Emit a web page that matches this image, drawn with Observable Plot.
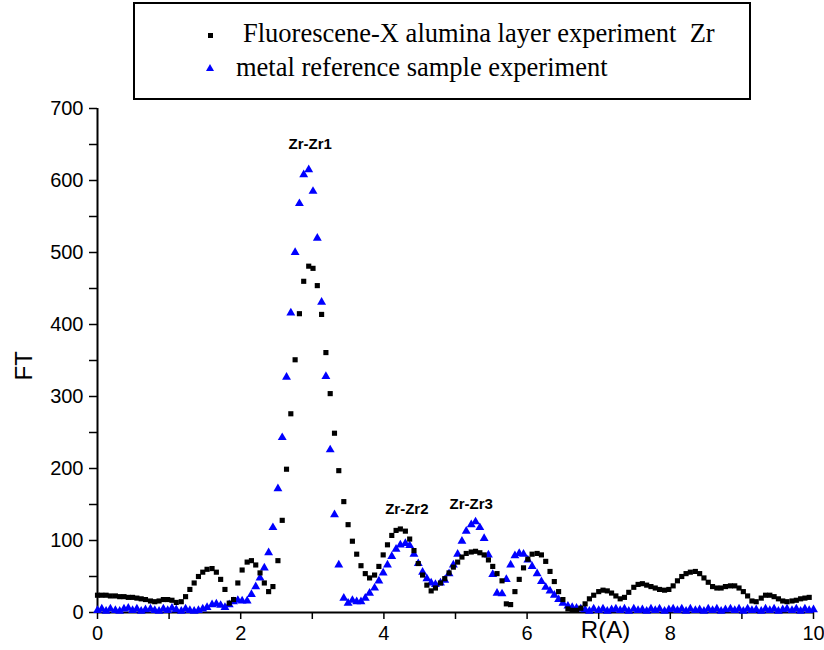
<!DOCTYPE html>
<html>
<head>
<meta charset="utf-8">
<script src="https://cdn.jsdelivr.net/npm/d3@7"></script>
<script src="https://cdn.jsdelivr.net/npm/@observablehq/plot@0.6"></script>
<style>
  html, body { margin: 0; padding: 0; background: #fff; }
  #wrap { position: relative; width: 824px; height: 650px; overflow: hidden; }
  #legend { position: absolute; left: 133px; top: 2px; width: 614px; height: 94px;
    border: 2px solid #000; box-sizing: content-box; background: #fff;
    font-family: "Liberation Serif", "Times New Roman", serif; font-size: 26.5px; color: #000; }
  .row { position: absolute; white-space: pre; line-height: 1; }
  .sq { position: absolute; width: 5px; height: 5px; background: #000; }
  .tri { position: absolute; width: 0; height: 0; border-left: 4px solid transparent;
    border-right: 4px solid transparent; border-bottom: 7px solid #0000ff; }
</style>
</head>
<body>
<div id="wrap">
  <div id="chart"></div>
  <div id="legend"></div>
</div>
<script>
// R grid (Å)
const r = [0.00,0.06,0.12,0.18,0.25,0.31,0.37,0.43,0.49,0.55,0.61,0.67,0.74,0.80,0.86,0.92,0.98,1.04,1.10,1.17,
1.23,1.29,1.35,1.41,1.47,1.53,1.60,1.66,1.72,1.78,1.84,1.90,1.96,2.02,2.09,2.15,2.21,2.27,2.33,2.39,
2.45,2.52,2.58,2.64,2.70,2.76,2.82,2.88,2.95,3.01,3.07,3.13,3.19,3.25,3.31,3.37,3.44,3.50,3.56,3.62,
3.68,3.74,3.80,3.87,3.93,3.99,4.05,4.11,4.17,4.23,4.30,4.36,4.42,4.48,4.54,4.60,4.66,4.72,4.79,4.85,
4.91,4.97,5.03,5.09,5.15,5.22,5.28,5.34,5.40,5.46,5.52,5.58,5.65,5.71,5.77,5.83,5.89,5.95,6.01,6.07,
6.14,6.20,6.26,6.32,6.38,6.44,6.50,6.57,6.63,6.69,6.75,6.81,6.87,6.93,7.00,7.06,7.12,7.18,7.24,7.30,
7.36,7.42,7.49,7.55,7.61,7.67,7.73,7.79,7.85,7.92,7.98,8.04,8.10,8.16,8.22,8.28,8.35,8.41,8.47,8.53,
8.59,8.65,8.71,8.77,8.84,8.90,8.96,9.02,9.08,9.14,9.20,9.27,9.33,9.39,9.45,9.51,9.57,9.63,9.70,9.76,
9.82,9.88,9.94,10.00];

// Fluorescene-X alumina layer experiment Zr (black squares)
const ftAlumina = [24,24,24,23,23,22,22,21,21,20,19,18,16,15,16,18,18,17,14,15,
22,32,41,50,56,60,61,56,46,32,13,18,41,59,70,72,66,55,41,29,
36,72,128,199,276,351,415,460,481,478,454,414,361,304,249,197,154,122,99,81,
65,54,48,52,64,80,94,107,114,116,113,102,86,68,52,38,30,34,41,47,
55,63,70,77,82,84,85,83,80,73,64,54,44,12,11,29,46,62,74,81,
82,80,71,57,43,29,18,5,3,3,6,12,19,24,29,31,30,27,23,19,
21,28,35,39,40,38,36,34,32,31,32,37,44,50,54,56,57,54,48,42,
36,34,34,36,37,37,34,29,23,16,15,20,24,24,22,19,16,15,16,17,
19,20,21];

// metal reference sample experiment (blue triangles)
const ftMetal = [3,5,2,5,3,2,5,6,3,5,2,4,5,3,2,5,3,6,4,2,
5,3,2,3,5,7,11,12,10,7,11,15,17,16,16,25,36,48,62,83,
118,172,243,327,416,500,568,608,615,585,520,431,328,226,136,66,20,13,17,15,
15,20,27,34,44,55,66,78,88,94,96,93,81,68,56,47,41,39,41,45,
54,66,81,99,113,122,126,118,103,80,53,27,26,46,66,79,82,81,73,64,
54,43,35,30,24,18,13,9,7,6,5,4,2,5,3,5,2,4,5,3,
5,2,5,3,4,2,5,3,5,2,4,5,3,5,2,5,3,4,2,5,
3,5,2,4,5,3,5,2,5,3,4,2,5,3,5,2,4,5,3,5,
2,5,3,4];

const seriesNames = ["Fluorescene-X alumina layer experiment  Zr", "metal reference sample experiment"];
const peakLabels = ["Zr-Zr1", "Zr-Zr2", "Zr-Zr3"];
const peakX = [2.97, 4.32, 5.22];
const peakY = [651, 144, 150];
const xTicks = [0, 2, 4, 6, 8, 10];
const xMinorTicks = [1, 3, 5, 7, 9];
const yTicks = [0, 100, 200, 300, 400, 500, 600, 700];
const yMinorTicks = [50, 150, 250, 350, 450, 550, 650];

const alumina = ftAlumina.map((v, i) => ({R: r[i], FT: v}));
const metal = ftMetal.map((v, i) => ({R: r[i], FT: v}));
const peaks = peakLabels.map((t, i) => ({t, x: peakX[i], y: peakY[i]}));

const chart = Plot.plot({
  width: 824,
  height: 650,
  marginLeft: 97,
  marginRight: 11,
  marginTop: 108,
  marginBottom: 38,
  style: {fontFamily: "'Liberation Sans', Arial, sans-serif", background: "#fff", color: "#000", overflow: "visible"},
  x: {domain: [0, 10]},
  y: {domain: [0, 700]},
  marks: [
    Plot.axisX(xTicks, {tickSize: 7, tickPadding: 6, fontSize: 20, label: null, strokeWidth: 1.5}),
    Plot.axisX(xMinorTicks, {tickSize: 7, tickFormat: () => "", label: null, strokeWidth: 1.5}),
    Plot.axisY(yTicks, {tickSize: 8, tickPadding: 6, fontSize: 20, label: null, strokeWidth: 1.5}),
    Plot.axisY(yMinorTicks, {tickSize: 8, tickFormat: () => "", label: null, strokeWidth: 1.5}),
    Plot.ruleY([0], {stroke: "#000", strokeWidth: 2}),
    Plot.ruleX([0], {stroke: "#000", strokeWidth: 2}),
    Plot.dot(metal, {x: "R", y: "FT", symbol: "triangle", r: 3.3, fill: "#0000ff", stroke: null}),
    Plot.dot(alumina, {x: "R", y: "FT", symbol: "square", r: 2.9, fill: "#000", stroke: null}),
    Plot.text(peaks, {x: "x", y: "y", text: "t", fontSize: 15, fontWeight: "bold", fill: "#000"}),
    Plot.text(["FT"], {frameAnchor: "left", dx: -73, dy: 20, rotate: -90, fontSize: 24, fill: "#000"}),
    Plot.text(["R(A)"], {frameAnchor: "bottom", dx: 150, dy: 25, fontSize: 24, fill: "#000"})
  ]
});
document.getElementById("chart").appendChild(chart);

// Legend box
const legend = document.getElementById("legend");
const rows = [
  {name: seriesNames[0], mark: "sq", top: 16, left: 108, mTop: 29, mLeft: 73},
  {name: seriesNames[1], mark: "tri", top: 50, left: 101, mTop: 60, mLeft: 71}
];
rows.forEach(rw => {
  const m = document.createElement("div");
  m.className = rw.mark;
  m.style.top = rw.mTop + "px";
  m.style.left = rw.mLeft + "px";
  legend.appendChild(m);
  const t = document.createElement("div");
  t.className = "row";
  t.style.top = rw.top + "px";
  t.style.left = rw.left + "px";
  t.textContent = rw.name;
  legend.appendChild(t);
});
</script>
</body>
</html>
